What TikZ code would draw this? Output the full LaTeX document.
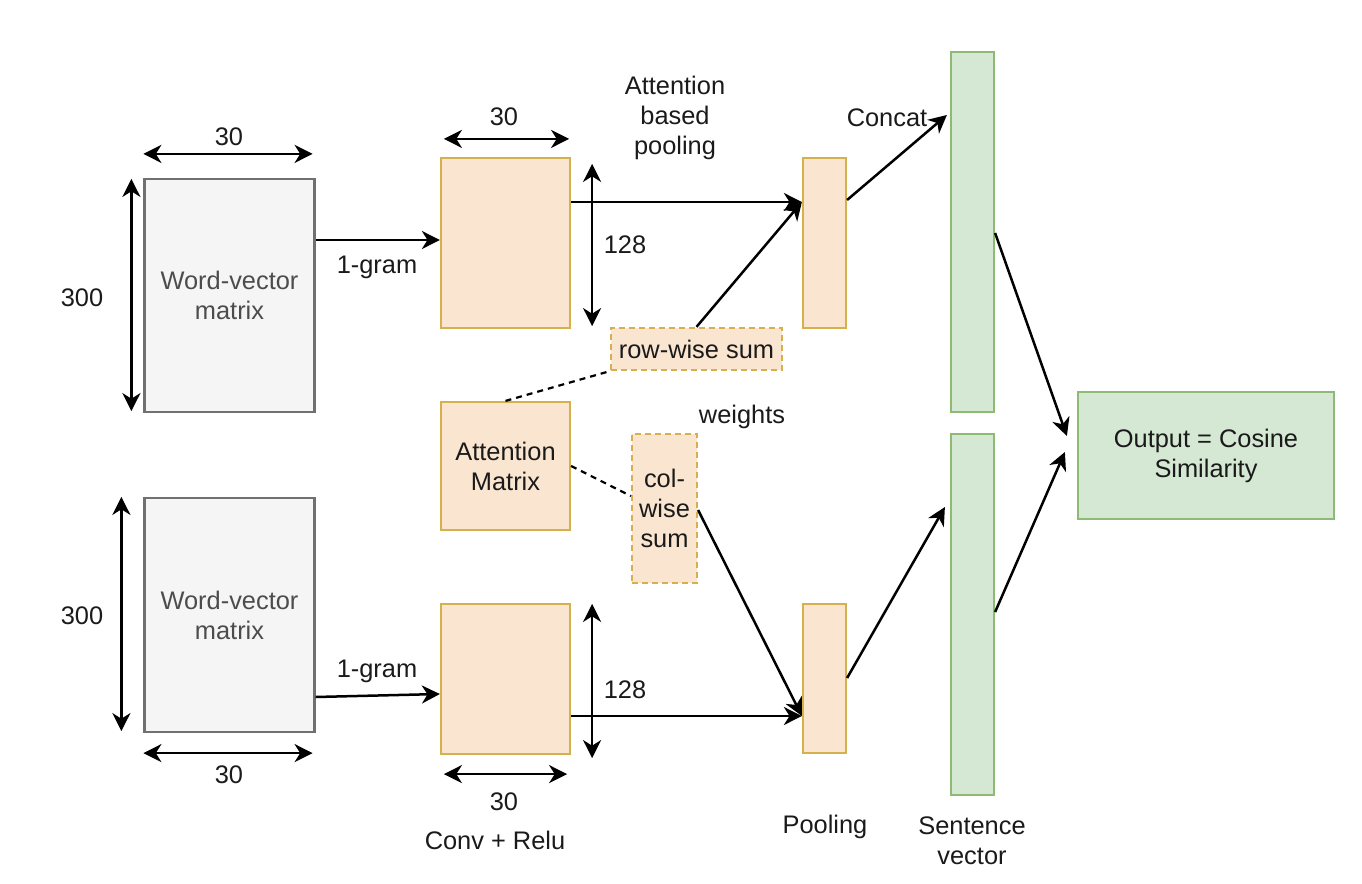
\documentclass[tikz,border=0pt]{standalone}
\usepackage{fontspec}
\setmainfont{Liberation Sans}
\usetikzlibrary{arrows.meta,calc}
\definecolor{orfill}{HTML}{FAE6D0}
\definecolor{orline}{HTML}{D6B04C}
\definecolor{grfill}{HTML}{D5E8D4}
\definecolor{grline}{HTML}{8DBB74}
\definecolor{gyfill}{HTML}{F5F5F5}
\definecolor{gyline}{HTML}{707070}
\definecolor{txt}{HTML}{1A1A1A}
\tikzset{
  x=0.5pt, y=-0.5pt,
  every node/.style={font=\fontsize{12.7}{15}\selectfont, text=txt, inner sep=0pt, align=center},
  obox/.style={draw=orline, fill=orfill, line width=1.1pt},
  dbox/.style={draw=orline, fill=orfill, line width=1.1pt, dash pattern=on 3pt off 2pt},
  gbox/.style={draw=grline, fill=grfill, line width=1.1pt},
  wbox/.style={draw=gyline, fill=gyfill, line width=1.1pt, text=black!70},
  tip/.style={},
  arr/.style={line width=1.25pt, -{Stealth[length=9pt,width=9pt,inset=2.8pt]}},
  dim/.style={line width=1.25pt, {Stealth[length=9pt,width=9pt,inset=2.8pt]}-{Stealth[length=9pt,width=9pt,inset=2.8pt]}},
  dl/.style={line width=1.1pt, dash pattern=on 3pt off 2.5pt}
}
\begin{document}
\begin{tikzpicture}
\useasboundingbox (0,0) rectangle (1362,884);
% boxes
\node[wbox, minimum width=85pt, minimum height=116.5pt] (wv1) at (229.5,295.5) {Word-vector\\matrix};
\node[wbox, minimum width=85pt, minimum height=117pt] (wv2) at (229.5,615) {Word-vector\\matrix};
\node[obox, minimum width=64.5pt, minimum height=85pt] (c1) at (505.5,243) {};
\node[obox, minimum width=64.5pt, minimum height=75pt] (c2) at (505.5,679) {};
\node[obox, minimum width=64.5pt, minimum height=64pt] (att) at (505.5,466) {Attention\\Matrix};
\node[dbox, minimum width=85.5pt, minimum height=21pt] (row) at (696.5,349) {row-wise sum};
\node[dbox, minimum width=32.5pt, minimum height=74.5pt] (col) at (664.5,508.5) {col-\\wise\\sum};
\node[obox, minimum width=21.5pt, minimum height=85pt] (p1) at (824.5,243) {};
\node[obox, minimum width=21.5pt, minimum height=74.5pt] (p2) at (824.5,678.5) {};
\node[gbox, minimum width=21.5pt, minimum height=180pt] (s1) at (972.5,232) {};
\node[gbox, minimum width=21.5pt, minimum height=180.5pt] (s2) at (972.5,614.5) {};
\node[gbox, minimum width=128pt, minimum height=63.5pt] (out) at (1206,455.5) {Output = Cosine\\Similarity};
% dimension arrows
\draw[dim] ($(wv1.north west)+(0,-24)$) -- ($(wv1.north east)+(-3,-24)$);
\draw[dim] ($(wv1.north west)+(-12,1)$) -- ($(wv1.south west)+(-12,-2)$);
\draw[dim] ($(wv2.north west)+(-22,0)$) -- ($(wv2.south west)+(-22,-2)$);
\draw[dim] ($(wv2.south west)+(0,20)$) -- ($(wv2.south east)+(-3,20)$);
\draw[dim] ($(c1.north west)+(4,-18)$) -- ($(c1.north east)+(-2,-18)$);
\draw[dim] ($(c1.north east)+(21,7)$) -- ($(c1.south east)+(21,-3)$);
\draw[dim] ($(c2.north east)+(21,1)$) -- ($(c2.south east)+(21,3)$);
\draw[dim] ($(c2.south west)+(4,19)$) -- ($(c2.south east)+(-4,19)$);
% dimension labels
\node (l30a) at (229,137) {30};
\node (l300a) at (82,298) {300};
\node (l300b) at (82,616) {300};
\node (l30b) at (229,775) {30};
\node (l30c) at (504,117) {30};
\node (l128a) at (625,245) {128};
\node (l128b) at (625,690) {128};
\node (l30d) at (504,802) {30};
\node (conv) at (495,840) {Conv + Relu};
\node (g1) at (377,267) {1-gram};
\node (g2) at (377,671) {1-gram};
\node (abp) at (675,118) {Attention\\based\\pooling};
\node (wts) at (742,417) {weights};
\node (cc) at (887,118) {Concat};
\node (pl) at (825,827) {Pooling};
\node (sv) at (972,841) {Sentence\\vector};
% connectors
\draw[arr] (wv1.east |- 0,240) -- (c1.west |- 0,240);
\draw[arr] (wv2.east |- 0,697) -- (c2.west |- 0,694);
\draw[arr] (c1.east |- 0,202) -- (p1.west |- 0,202);
\draw[arr] (row.north) -- (p1.west |- 0,202);
\draw[dl] (att.north) -- (row.south west);
\draw[dl] (att.east) -- (col.west |- 0,496);
\draw[arr] (col.east |- 0,510) -- (p2.west |- 0,716);
\draw[arr] (c2.east |- 0,716) -- (p2.west |- 0,716);
\draw[arr] (p1.east |- 0,200) -- ($(s1.west |- 0,115)+(-3,0)$);
\draw[arr] (p2.east |- 0,678) -- ($(s2.west |- 0,507)+(-5,0)$);
\draw[arr] (s1.east |- 0,233) -- ($(out.west |- 0,436)+(-10,0)$);
\draw[arr] (s2.east |- 0,612) -- ($(out.west |- 0,452)+(-12,0)$);
\end{tikzpicture}
\end{document}
